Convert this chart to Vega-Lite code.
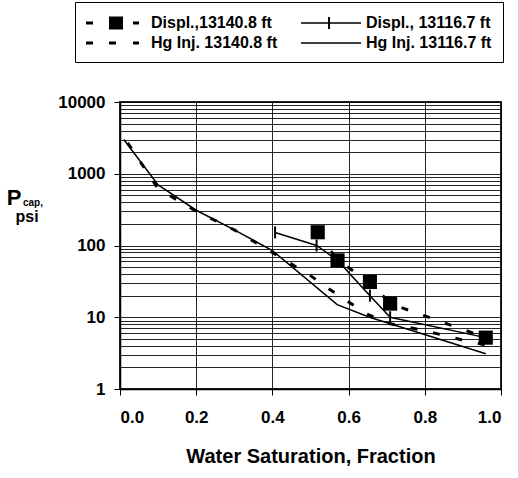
{
  "$schema": "https://vega.github.io/schema/vega-lite/v6.json",
  "autosize": "none",
  "width": 381,
  "height": 287,
  "padding": {"left": 120, "top": 102, "right": 17, "bottom": 89},
  "background": "white",
  "config": {
    "font": "Liberation Sans",
    "view": {"stroke": "#222", "strokeWidth": 2},
    "axis": {
      "labelFont": "Liberation Sans",
      "labelFontWeight": "bold",
      "labelColor": "black",
      "titleFont": "Liberation Sans",
      "titleFontWeight": "bold",
      "titleColor": "black",
      "domainColor": "black",
      "domainWidth": 1.5,
      "tickColor": "black",
      "tickWidth": 1,
      "tickSize": 6,
      "gridColor": "black",
      "gridWidth": 1,
      "gridOpacity": 0.85
    }
  },
  "data": {
    "values": [
      {"series": "Hg Inj. 13116.7 ft", "sw": 0.01, "pc": 3000},
      {"series": "Hg Inj. 13116.7 ft", "sw": 0.1, "pc": 700},
      {"series": "Hg Inj. 13116.7 ft", "sw": 0.2, "pc": 310},
      {"series": "Hg Inj. 13116.7 ft", "sw": 0.3, "pc": 165},
      {"series": "Hg Inj. 13116.7 ft", "sw": 0.4, "pc": 85},
      {"series": "Hg Inj. 13116.7 ft", "sw": 0.57, "pc": 15},
      {"series": "Hg Inj. 13116.7 ft", "sw": 0.655, "pc": 10},
      {"series": "Hg Inj. 13116.7 ft", "sw": 0.96, "pc": 3.1},

      {"series": "Hg Inj. 13140.8 ft", "sw": 0.02, "pc": 2700},
      {"series": "Hg Inj. 13140.8 ft", "sw": 0.1, "pc": 620},
      {"series": "Hg Inj. 13140.8 ft", "sw": 0.2, "pc": 300},
      {"series": "Hg Inj. 13140.8 ft", "sw": 0.3, "pc": 165},
      {"series": "Hg Inj. 13140.8 ft", "sw": 0.4, "pc": 80},
      {"series": "Hg Inj. 13140.8 ft", "sw": 0.45, "pc": 55},
      {"series": "Hg Inj. 13140.8 ft", "sw": 0.5, "pc": 38},
      {"series": "Hg Inj. 13140.8 ft", "sw": 0.55, "pc": 24.5},
      {"series": "Hg Inj. 13140.8 ft", "sw": 0.6, "pc": 16.3},
      {"series": "Hg Inj. 13140.8 ft", "sw": 0.65, "pc": 11},
      {"series": "Hg Inj. 13140.8 ft", "sw": 0.7, "pc": 8.3},
      {"series": "Hg Inj. 13140.8 ft", "sw": 0.8, "pc": 6.5},
      {"series": "Hg Inj. 13140.8 ft", "sw": 0.9, "pc": 4.8},
      {"series": "Hg Inj. 13140.8 ft", "sw": 0.96, "pc": 4.1},

      {"series": "Displ., 13116.7 ft", "sw": 0.407, "pc": 152},
      {"series": "Displ., 13116.7 ft", "sw": 0.516, "pc": 100},
      {"series": "Displ., 13116.7 ft", "sw": 0.571, "pc": 62},
      {"series": "Displ., 13116.7 ft", "sw": 0.656, "pc": 20},
      {"series": "Displ., 13116.7 ft", "sw": 0.709, "pc": 10},
      {"series": "Displ., 13116.7 ft", "sw": 0.96, "pc": 5.2},

      {"series": "Displ.,13140.8 ft", "sw": 0.519, "pc": 153},
      {"series": "Displ.,13140.8 ft", "sw": 0.571, "pc": 62},
      {"series": "Displ.,13140.8 ft", "sw": 0.656, "pc": 31},
      {"series": "Displ.,13140.8 ft", "sw": 0.709, "pc": 15.5},
      {"series": "Displ.,13140.8 ft", "sw": 0.96, "pc": 5.2}
    ]
  },
  "encoding": {
    "x": {
      "field": "sw",
      "type": "quantitative",
      "scale": {"domain": [0, 1], "nice": false, "zero": false},
      "axis": {
        "values": [0, 0.2, 0.4, 0.6, 0.8, 1.0],
        "format": ".1f",
        "labelFontSize": 17,
        "labelPadding": 14,
        "title": "Water Saturation, Fraction",
        "titleFontSize": 20,
        "titlePadding": 21
      }
    },
    "y": {
      "field": "pc",
      "type": "quantitative",
      "scale": {"type": "log", "domain": [1, 10000], "nice": false},
      "axis": {
        "values": [1, 2, 3, 4, 5, 6, 7, 8, 9, 10, 20, 30, 40, 50, 60, 70, 80, 90, 100, 200, 300, 400, 500, 600, 700, 800, 900, 1000, 2000, 3000, 4000, 5000, 6000, 7000, 8000, 9000, 10000],
        "format": "d",
        "labelExpr": "indexof([1, 10, 100, 1000, 10000], datum.value) >= 0 ? datum.label : ''",
        "tickOpacity": {"condition": {"test": "indexof([1, 10, 100, 1000, 10000], datum.value) >= 0", "value": 1}, "value": 0},
        "labelFontSize": 17,
        "labelPadding": 9,
        "title": null
      }
    }
  },
  "layer": [
    {
      "transform": [{"filter": "indexof(['Hg Inj. 13116.7 ft', 'Displ., 13116.7 ft'], datum.series) >= 0"}],
      "mark": {"type": "line", "color": "black", "strokeWidth": 1.5},
      "encoding": {"detail": {"field": "series"}, "order": {"field": "sw", "type": "quantitative"}}
    },
    {
      "transform": [{"filter": "indexof(['Hg Inj. 13140.8 ft', 'Displ.,13140.8 ft'], datum.series) >= 0"}],
      "mark": {"type": "line", "color": "black", "strokeWidth": 3, "strokeDash": [7, 16], "strokeCap": "butt"},
      "encoding": {"detail": {"field": "series"}, "order": {"field": "sw", "type": "quantitative"}}
    },
    {
      "transform": [{"filter": "datum.series == 'Displ.,13140.8 ft'"}],
      "mark": {"type": "square", "color": "black", "filled": true, "size": 200, "opacity": 1}
    },
    {
      "transform": [{"filter": "datum.series == 'Displ., 13116.7 ft'"}],
      "mark": {"type": "point", "shape": "M0,-1L0,1", "color": "black", "size": 144, "strokeWidth": 2, "opacity": 1}
    },
    {
      "mark": {"type": "point", "filled": true, "color": "black", "opacity": 0},
      "encoding": {
        "shape": {
          "field": "series",
          "type": "nominal",
          "scale": {
            "domain": ["Displ.,13140.8 ft", "Hg Inj. 13140.8 ft", "Displ., 13116.7 ft", "Hg Inj. 13116.7 ft"],
            "range": [
              "M-1,-0.15H-0.3V0.15H-1Z M1.3,-0.65H2.7V0.65H1.3Z M3.7,-0.15H4.3V0.15H3.7Z",
              "M-1,-0.15H-0.3V0.15H-1Z M1.3,-0.15H2V0.15H1.3Z M3.7,-0.15H4.3V0.15H3.7Z",
              "M-1,-0.08H5V0.08H-1Z M1.7,-0.6H1.9V0.6H1.7Z",
              "M-1,-0.08H5V0.08H-1Z"
            ]
          },
          "legend": {
            "title": null,
            "orient": "none",
            "legendX": -45,
            "legendY": -100,
            "columns": 2,
            "columnPadding": 23,
            "rowPadding": 2,
            "padding": 11,
            "strokeColor": "black",
            "fillColor": "white",
            "symbolSize": 400,
            "symbolOpacity": 1,
            "symbolFillColor": "black",
            "symbolStrokeWidth": 0,
            "labelOffset": 45,
            "labelFont": "Liberation Sans",
            "labelFontWeight": "bold",
            "labelFontSize": 16,
            "labelColor": "black",
            "labelLimit": 0
          }
        }
      }
    },
    {
      "transform": [{"filter": "datum.sw == 0.01"}],
      "mark": {"type": "text", "text": "P", "font": "Liberation Sans", "fontWeight": "bold", "fontSize": 22, "align": "center", "baseline": "alphabetic", "color": "black"},
      "encoding": {"x": {"datum": -0.278}, "y": {"datum": 367}}
    },
    {
      "transform": [{"filter": "datum.sw == 0.01"}],
      "mark": {"type": "text", "text": "cap,", "font": "Liberation Sans", "fontWeight": "bold", "fontSize": 10, "align": "left", "baseline": "alphabetic", "color": "black"},
      "encoding": {"x": {"datum": -0.2546}, "y": {"datum": 360}}
    },
    {
      "transform": [{"filter": "datum.sw == 0.01"}],
      "mark": {"type": "text", "text": "psi", "font": "Liberation Sans", "fontWeight": "bold", "fontSize": 16, "align": "center", "baseline": "alphabetic", "color": "black"},
      "encoding": {"x": {"datum": -0.244}, "y": {"datum": 215}}
    }
  ]
}
